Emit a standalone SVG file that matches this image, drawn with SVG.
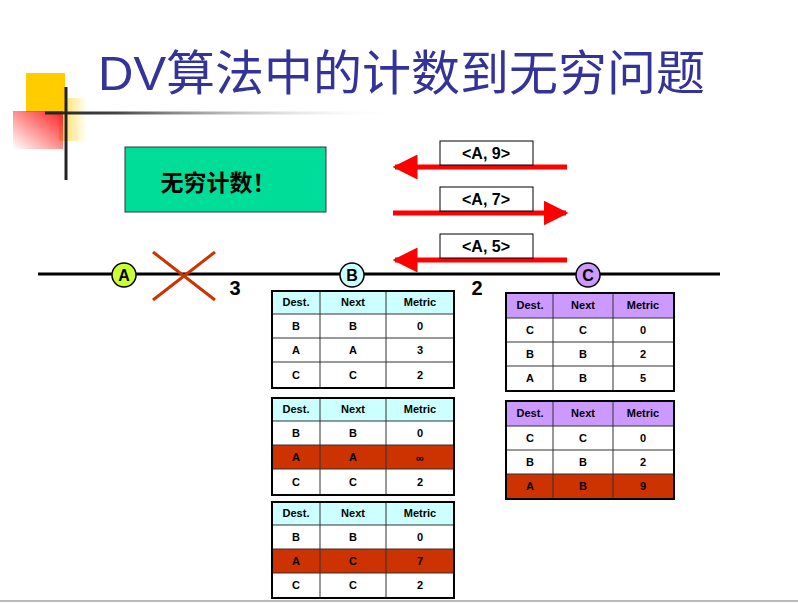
<svg xmlns="http://www.w3.org/2000/svg" width="798" height="604" viewBox="0 0 798 604">
<defs>
<style>
.t{font-family:"Liberation Sans",Arial,sans-serif;font-weight:bold;font-size:11px;text-anchor:middle;fill:#000}
.g{stroke:#000;stroke-width:2;fill:none}
.c{stroke:#333;stroke-width:1}
.lbl{font-family:"Liberation Sans",Arial,sans-serif;font-weight:bold;font-size:16px;text-anchor:middle}
</style>
<linearGradient id="rg" x1="1" y1="0" x2="0" y2="1"><stop offset="0" stop-color="#ff2020"/><stop offset="1" stop-color="#ff2020" stop-opacity="0"/></linearGradient>
<linearGradient id="yg" x1="0" y1="0" x2="1" y2="0"><stop offset="0" stop-color="#ffcc00" stop-opacity="0.7"/><stop offset="1" stop-color="#ffcc00" stop-opacity="0"/></linearGradient>
<linearGradient id="lg" x1="45" y1="0" x2="400" y2="0" gradientUnits="userSpaceOnUse"><stop offset="0" stop-color="#222"/><stop offset="0.2" stop-color="#444"/><stop offset="1" stop-color="#fff" stop-opacity="0"/></linearGradient>
<marker id="ah" markerWidth="5" markerHeight="5" refX="4.5" refY="2.5" orient="auto" markerUnits="strokeWidth"><path d="M0,0 L5,2.5 L0,5 z" fill="#ff0000"/></marker>
</defs>
<rect width="798" height="604" fill="#fff"/>
<g id="deco">
<rect x="26" y="73" width="39" height="39" fill="#ffcc00"/>
<rect x="59" y="98" width="28" height="43" fill="url(#yg)"/>
<rect x="13" y="111" width="50" height="38" fill="url(#rg)"/>
<line x1="45" y1="113" x2="400" y2="113" stroke="url(#lg)" stroke-width="3"/>
<line x1="66" y1="87" x2="66" y2="180" stroke="#222" stroke-width="3"/>
<line x1="0" y1="601" x2="798" y2="601" stroke="#bbb" stroke-width="2"/>
</g>
<text x="98" y="90" font-family="'Liberation Sans','Noto Sans CJK SC',sans-serif" font-size="48" fill="#333399" textLength="607" lengthAdjust="spacingAndGlyphs">DV算法中的计数到无穷问题</text>
<g id="note">
<rect x="125" y="147" width="201" height="65" fill="#00dd99" stroke="#333" stroke-width="1"/>
<text x="218" y="191" font-family="'Noto Sans CJK SC',sans-serif" font-weight="bold" font-size="23" text-anchor="middle">无穷计数！</text>
</g>
<g id="connectors">
<line x1="38" y1="274" x2="720" y2="274" stroke="#000" stroke-width="3"/>
<line x1="567" y1="167" x2="395" y2="167" stroke="#ff0000" stroke-width="5" marker-end="url(#ah)"/>
<line x1="393" y1="213" x2="566" y2="213" stroke="#ff0000" stroke-width="5" marker-end="url(#ah)"/>
<line x1="567" y1="260" x2="395" y2="260" stroke="#ff0000" stroke-width="5" marker-end="url(#ah)"/>
<rect x="440" y="141" width="93" height="24" fill="#fff" stroke="#000"/>
<text class="lbl" x="486" y="159">&lt;A, 9&gt;</text>
<rect x="440" y="187" width="93" height="24" fill="#fff" stroke="#000"/>
<text class="lbl" x="486" y="205">&lt;A, 7&gt;</text>
<rect x="440" y="234" width="93" height="24" fill="#fff" stroke="#000"/>
<text class="lbl" x="486" y="252">&lt;A, 5&gt;</text>
<line x1="153" y1="252" x2="215" y2="300" stroke="#cc3300" stroke-width="3"/>
<line x1="153" y1="300" x2="215" y2="252" stroke="#cc3300" stroke-width="3"/>
<text x="235" y="295" font-family="Liberation Sans,sans-serif" font-weight="bold" font-size="20" text-anchor="middle">3</text>
<text x="477" y="295" font-family="Liberation Sans,sans-serif" font-weight="bold" font-size="20" text-anchor="middle">2</text>
</g>
<g id="nodeA"><circle cx="124" cy="275" r="12" fill="#ccff33" stroke="#000" stroke-width="1.5"/><text x="124" y="281" class="lbl">A</text></g>
<g id="nodeB"><circle cx="352" cy="275" r="12" fill="#ccffff" stroke="#000" stroke-width="1.5"/><text x="352" y="281" class="lbl">B</text></g>
<g id="nodeC"><circle cx="588" cy="275" r="12" fill="#cc99ff" stroke="#000" stroke-width="1.5"/><text x="588" y="281" class="lbl">C</text></g>

<g id="tableB1">
<rect x="272" y="291" width="182" height="23" fill="#ccffff"/>
<line class="c" x1="272" y1="314" x2="454" y2="314"/><line class="c" x1="272" y1="338" x2="454" y2="338"/><line class="c" x1="272" y1="362" x2="454" y2="362"/>
<line class="c" x1="320" y1="291" x2="320" y2="388"/><line class="c" x1="386" y1="291" x2="386" y2="388"/>
<rect class="g" x="272" y="291" width="182" height="97"/>
<text class="t" x="296" y="306">Dest.</text><text class="t" x="353" y="306">Next</text><text class="t" x="420" y="306">Metric</text>
<text class="t" x="296" y="330">B</text><text class="t" x="353" y="330">B</text><text class="t" x="420" y="330">0</text>
<text class="t" x="296" y="354">A</text><text class="t" x="353" y="354">A</text><text class="t" x="420" y="354">3</text>
<text class="t" x="296" y="379">C</text><text class="t" x="353" y="379">C</text><text class="t" x="420" y="379">2</text>
</g>
<g id="tableB2">
<rect x="272" y="398" width="182" height="23" fill="#ccffff"/>
<rect x="272" y="445" width="182" height="24" fill="#cc3300"/>
<line class="c" x1="272" y1="421" x2="454" y2="421"/><line class="c" x1="272" y1="445" x2="454" y2="445"/><line class="c" x1="272" y1="469" x2="454" y2="469"/>
<line class="c" x1="320" y1="398" x2="320" y2="495"/><line class="c" x1="386" y1="398" x2="386" y2="495"/>
<rect class="g" x="272" y="398" width="182" height="97"/>
<text class="t" x="296" y="413">Dest.</text><text class="t" x="353" y="413">Next</text><text class="t" x="420" y="413">Metric</text>
<text class="t" x="296" y="437">B</text><text class="t" x="353" y="437">B</text><text class="t" x="420" y="437">0</text>
<text class="t" x="296" y="461">A</text><text class="t" x="353" y="461">A</text><text class="t" x="420" y="462" font-size="16">∞</text>
<text class="t" x="296" y="486">C</text><text class="t" x="353" y="486">C</text><text class="t" x="420" y="486">2</text>
</g>
<g id="tableB3">
<rect x="272" y="502" width="182" height="23" fill="#ccffff"/>
<rect x="272" y="549" width="182" height="24" fill="#cc3300"/>
<line class="c" x1="272" y1="525" x2="454" y2="525"/><line class="c" x1="272" y1="549" x2="454" y2="549"/><line class="c" x1="272" y1="573" x2="454" y2="573"/>
<line class="c" x1="320" y1="502" x2="320" y2="598"/><line class="c" x1="386" y1="502" x2="386" y2="598"/>
<rect class="g" x="272" y="502" width="182" height="96"/>
<text class="t" x="296" y="517">Dest.</text><text class="t" x="353" y="517">Next</text><text class="t" x="420" y="517">Metric</text>
<text class="t" x="296" y="541">B</text><text class="t" x="353" y="541">B</text><text class="t" x="420" y="541">0</text>
<text class="t" x="296" y="565">A</text><text class="t" x="353" y="565">C</text><text class="t" x="420" y="565">7</text>
<text class="t" x="296" y="589">C</text><text class="t" x="353" y="589">C</text><text class="t" x="420" y="589">2</text>
</g>
<g id="tableC1">
<rect x="506" y="293" width="168" height="25" fill="#cc99ff"/>
<line class="c" x1="506" y1="318" x2="674" y2="318"/><line class="c" x1="506" y1="342" x2="674" y2="342"/><line class="c" x1="506" y1="366" x2="674" y2="366"/>
<line class="c" x1="553" y1="293" x2="553" y2="391"/><line class="c" x1="613" y1="293" x2="613" y2="391"/>
<rect class="g" x="506" y="293" width="168" height="98"/>
<text class="t" x="530" y="309">Dest.</text><text class="t" x="583" y="309">Next</text><text class="t" x="643" y="309">Metric</text>
<text class="t" x="530" y="334">C</text><text class="t" x="583" y="334">C</text><text class="t" x="643" y="334">0</text>
<text class="t" x="530" y="358">B</text><text class="t" x="583" y="358">B</text><text class="t" x="643" y="358">2</text>
<text class="t" x="530" y="382">A</text><text class="t" x="583" y="382">B</text><text class="t" x="643" y="382">5</text>
</g>
<g id="tableC2">
<rect x="506" y="401" width="168" height="25" fill="#cc99ff"/>
<rect x="506" y="474" width="168" height="25" fill="#cc3300"/>
<line class="c" x1="506" y1="426" x2="674" y2="426"/><line class="c" x1="506" y1="450" x2="674" y2="450"/><line class="c" x1="506" y1="474" x2="674" y2="474"/>
<line class="c" x1="553" y1="401" x2="553" y2="499"/><line class="c" x1="613" y1="401" x2="613" y2="499"/>
<rect class="g" x="506" y="401" width="168" height="98"/>
<text class="t" x="530" y="417">Dest.</text><text class="t" x="583" y="417">Next</text><text class="t" x="643" y="417">Metric</text>
<text class="t" x="530" y="442">C</text><text class="t" x="583" y="442">C</text><text class="t" x="643" y="442">0</text>
<text class="t" x="530" y="466">B</text><text class="t" x="583" y="466">B</text><text class="t" x="643" y="466">2</text>
<text class="t" x="530" y="490">A</text><text class="t" x="583" y="490">B</text><text class="t" x="643" y="490">9</text>
</g>
</svg>
